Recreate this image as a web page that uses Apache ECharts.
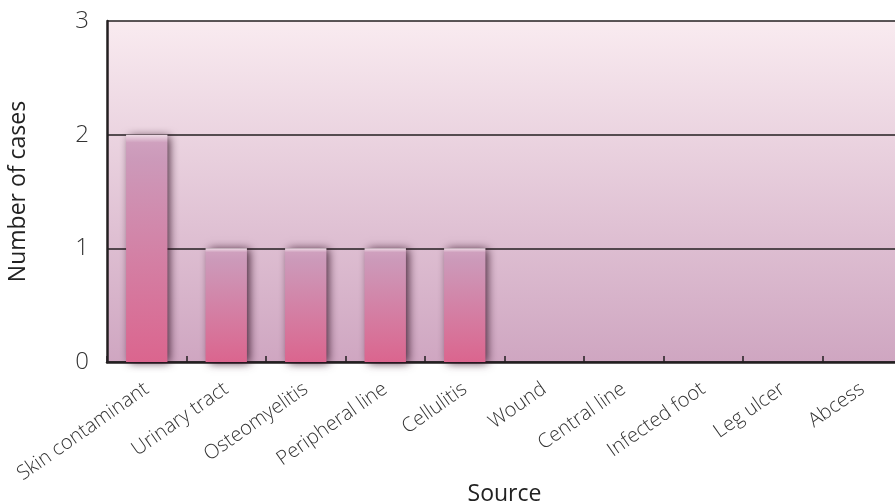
<!DOCTYPE html>
<html>
<head>
<meta charset="utf-8">
<script src="https://cdn.jsdelivr.net/npm/echarts@6/dist/echarts.min.js"></script>
<style>
html,body{margin:0;padding:0;background:#fff;}
#chart{width:895px;height:502px;}
</style>
</head>
<body>
<div id="chart"></div>
<script>
const categories = ['Skin contaminant','Urinary tract','Osteomyelitis','Peripheral line','Cellulitis','Wound','Central line','Infected foot','Leg ulcer','Abcess'];
const cases = [2,1,1,1,1,0,0,0,0,0];
const yTicks = [0,1,2,3];

const chart = echarts.init(document.getElementById('chart'));
const font = '"Open Sans", Lato, "Noto Sans", sans-serif';
chart.setOption({
  animation:false,
  grid:{left:107,right:-7,top:21,bottom:140,show:true,borderWidth:0,
    containLabel:false,outerBoundsMode:'none',
    backgroundColor:new echarts.graphic.LinearGradient(0,0,0,1,[
      {offset:0,color:'#f9ebf0'},{offset:1,color:'#cfa6c1'}])},
  xAxis:{type:'category',data:categories,
    axisLine:{lineStyle:{color:'#231f20',width:2.5}},
    axisTick:{show:true,inside:true,length:6,lineStyle:{color:'#231f20',width:1.5}},
    axisLabel:{rotate:35,margin:25,fontSize:20,color:'#333',fontFamily:font,fontWeight:300,interval:0},
    name:'Source',nameLocation:'middle',nameGap:121,nameMoveOverlap:false,
    nameTextStyle:{fontSize:23,color:'#222',fontFamily:font}},
  yAxis:{type:'value',min:0,max:3,interval:1,
    axisLine:{show:true,lineStyle:{color:'#231f20',width:2.5}},
    axisTick:{show:false},
    splitLine:{lineStyle:{color:'#231f20',width:1.5}},
    axisLabel:{margin:18,fontSize:24,color:'#333',fontFamily:font,fontWeight:300,
      formatter:v=>yTicks.includes(v)?String(v):''},
    name:'Number of cases',nameLocation:'middle',nameGap:77,nameMoveOverlap:false,
    nameTextStyle:{fontSize:23,color:'#222',fontFamily:font}},
  series:[{type:'bar',data:cases,barWidth:'52%',
    itemStyle:{
      color:new echarts.graphic.LinearGradient(0,0,0,1,[
        {offset:0,color:'#f0dde7'},{offset:0.035,color:'#cfa0be'},
        {offset:0.1,color:'#cc9aba'},{offset:1,color:'#db658e'}]),
      shadowColor:'rgba(45,10,30,0.85)',shadowBlur:9,shadowOffsetX:3,shadowOffsetY:1}
  }]
});
</script>
</body>
</html>
